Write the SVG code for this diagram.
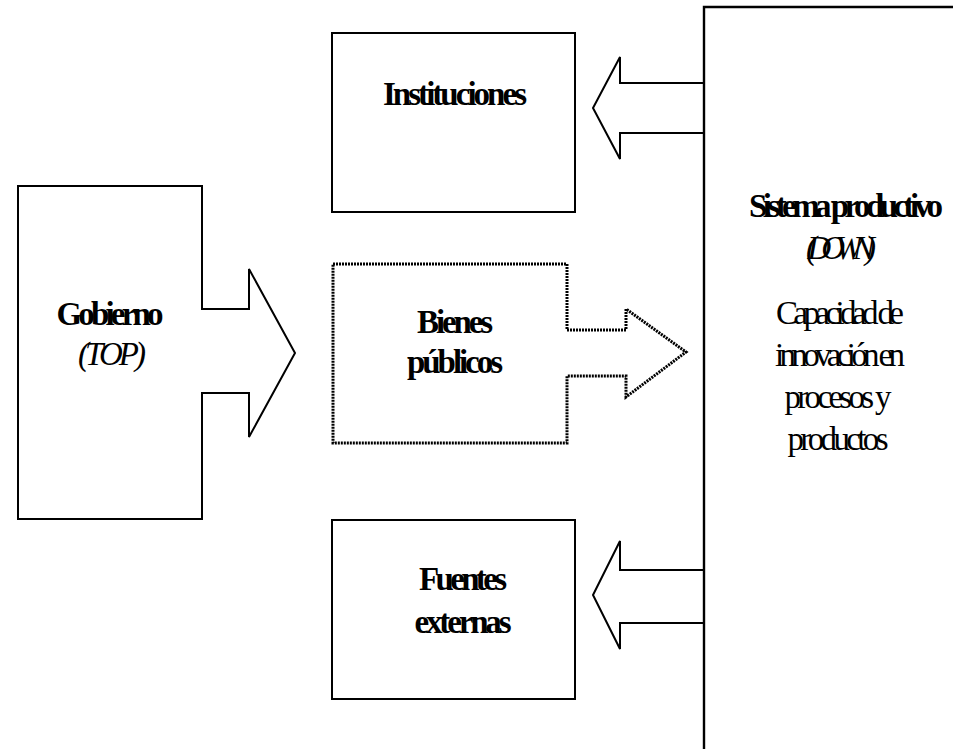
<svg xmlns="http://www.w3.org/2000/svg" width="953" height="749" viewBox="0 0 953 749">
<style>
.shape{fill:#fff;stroke:#000;stroke-width:2;stroke-linejoin:miter}
.frame{fill:none;stroke:#000;stroke-width:2.4}
.dotted{fill:#fff;stroke:#000;stroke-width:3;stroke-dasharray:2 1}
text{font-family:"Liberation Serif","Times New Roman",serif;font-size:33px;fill:#000;text-anchor:middle}
.b{font-weight:bold}
.i{font-style:italic}
</style>
<rect width="953" height="749" fill="#fff"/>
<g id="connectors">
<polyline class="shape" points="704,83 620,83 620,57 593,108 620,159 620,133 704,133"/>
<polyline class="shape" points="704,570 620,570 620,541 593,595 620,649 620,623 704,623"/>
</g>
<g id="sistema-productivo">
<polyline class="frame" points="704,749 704,7 953,7"/>
<text class="b" x="846" y="217" textLength="194" lengthAdjust="spacing">Sistema productivo</text>
<text class="i" x="841" y="259" textLength="70" lengthAdjust="spacing">(DOWN)</text>
<text x="840" y="324" textLength="128" lengthAdjust="spacing">Capacidad de</text>
<text x="840" y="366" textLength="130" lengthAdjust="spacing">innovación en</text>
<text x="838" y="408" textLength="107" lengthAdjust="spacing">procesos y</text>
<text x="838" y="450" textLength="101" lengthAdjust="spacing">productos</text>
</g>
<g id="instituciones">
<rect class="shape" x="332" y="33" width="243" height="179"/>
<text class="b" x="455" y="105" textLength="144" lengthAdjust="spacing">Instituciones</text>
</g>
<g id="fuentes-externas">
<rect class="shape" x="332" y="520" width="243" height="179"/>
<text class="b" x="463" y="590" textLength="88" lengthAdjust="spacing">Fuentes</text>
<text class="b" x="463" y="633" textLength="97" lengthAdjust="spacing">externas</text>
</g>
<g id="gobierno">
<polygon class="shape" points="18,186 202,186 202,309 249,309 249,269 295,353 249,437 249,393 202,393 202,519 18,519"/>
<text class="b" x="110" y="325" textLength="107" lengthAdjust="spacing">Gobierno</text>
<text class="i" x="112" y="365" textLength="68" lengthAdjust="spacing">(TOP)</text>
</g>
<g id="bienes-publicos">
<polygon class="dotted" points="333,264 567,264 567,330 626,330 626,309 686,352 626,397 626,376 567,376 567,443 333,443"/>
<text class="b" x="455" y="333" textLength="76" lengthAdjust="spacing">Bienes</text>
<text class="b" x="455" y="373" textLength="96" lengthAdjust="spacing">públicos</text>
</g>
</svg>
